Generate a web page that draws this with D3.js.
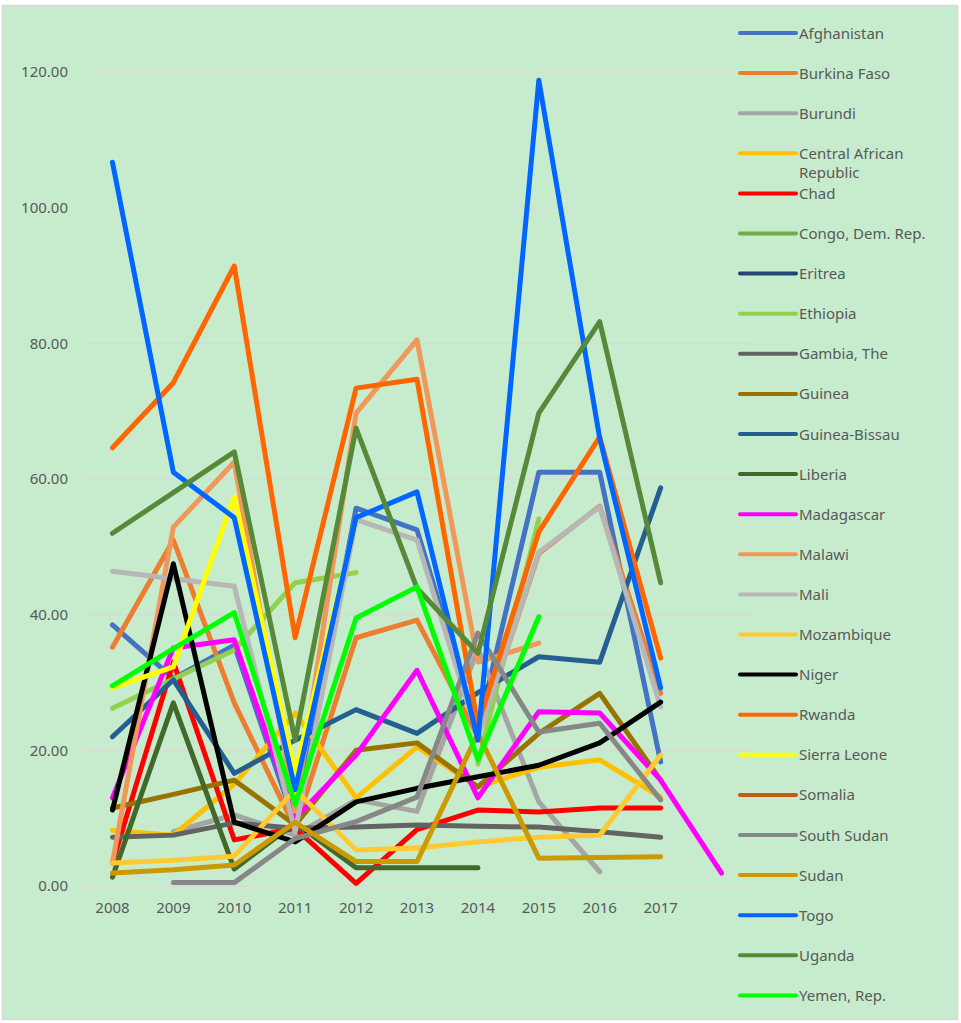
<!DOCTYPE html>
<html>
<head>
<meta charset="utf-8">
<script src="https://cdnjs.cloudflare.com/ajax/libs/d3/7.8.5/d3.min.js"></script>
<style>
  body { margin: 0; background: #fff; }
  text { font-family: "Noto Sans", "DejaVu Sans", sans-serif; }
</style>
</head>
<body>
<div class="chartDiv"></div>
<script>
// year labels (last slot has no label)
let years = ["2008","2009","2010","2011","2012","2013","2014","2015","2016","2017",""];
let yTicks = [0, 20, 40, 60, 80, 100, 120];

let countries = ["Afghanistan","Burkina Faso","Burundi","Central African Republic","Chad",
  "Congo, Dem. Rep.","Eritrea","Ethiopia","Gambia, The","Guinea","Guinea-Bissau","Liberia",
  "Madagascar","Malawi","Mali","Mozambique","Niger","Rwanda","Sierra Leone","Somalia",
  "South Sudan","Sudan","Togo","Uganda","Yemen, Rep."];

let colors = ["#4472c4","#ed7d31","#a5a5a5","#ffc000","#ff0000",
  "#70ad47","#264478","#92d050","#636363","#997300","#255e91","#43682b",
  "#ff00ff","#f1975a","#b7b7b7","#ffc933","#000000","#ff6600","#ffff00","#c55a11",
  "#878787","#cc9900","#0066ff","#578a38","#00ff00"];

let afghanistan  = [38.5, 30.6, 35.5, 9.0, 55.7, 52.5, 23.0, 61.0, 61.0, 18.3, null];
let burkinaFaso  = [35.2, 51.0, 27.0, 8.5, 36.6, 39.2, 22.0, 49.0, 56.0, 28.4, null];
let burundi      = [null, 8.0, 10.5, 7.5, 12.7, 11.0, 35.0, 12.4, 2.1, null, null];
let car          = [8.2, 7.5, 15.0, 25.5, 13.0, 20.5, 14.6, 17.5, 18.6, 13.1, null];
let chad         = [3.4, 33.0, 6.8, 8.5, 0.4, 8.3, 11.2, 10.9, 11.5, 11.5, null];
let congo        = [null, null, null, null, null, null, null, null, null, null, null];
let eritrea      = [null, null, null, null, null, null, null, null, null, null, null];
let ethiopia     = [26.2, 30.5, 34.8, 44.7, 46.2, null, 18.0, 54.1, null, null, null];
let gambia       = [7.2, 7.5, 9.3, 8.5, 8.7, 9.0, 8.8, 8.7, 8.0, 7.2, null];
let guinea       = [11.5, 13.5, 15.6, 9.0, 20.0, 21.1, 14.6, 22.5, 28.4, 15.6, null];
let guineaBissau = [22.0, 30.4, 16.6, 21.5, 26.0, 22.5, 28.5, 33.8, 33.0, 58.7, null];
let liberia      = [1.3, 27.0, 2.5, 9.3, 2.7, 2.7, 2.7, null, null, null, null];
let madagascar   = [13.0, 35.1, 36.3, 10.0, 19.3, 31.8, 13.0, 25.7, 25.5, 15.6, 1.9];
let malawi       = [3.4, 52.9, 62.5, 11.0, 69.7, 80.5, 33.0, 35.8, null, null, null];
let mali         = [46.4, 45.3, 44.2, 8.0, 54.0, 51.0, 22.0, 49.2, 55.9, 26.4, null];
let mozambique   = [3.4, 3.8, 4.4, 14.2, 5.3, 5.6, 6.5, 7.2, 7.5, 19.3, null];
let niger        = [11.2, 47.5, 9.4, 6.5, 12.4, 14.4, 16.1, 17.8, 21.1, 27.1, null];
let rwanda       = [64.6, 74.2, 91.4, 36.6, 73.4, 74.7, 23.7, 52.2, 66.2, 33.6, null];
let sierraLeone  = [29.2, 32.3, 57.4, 16.7, 54.0, null, null, null, null, null, null];
let somalia      = [null, null, null, null, null, null, null, null, null, null, null];
let southSudan   = [null, 0.5, 0.5, 7.0, 9.5, 13.1, 37.3, 22.7, 24.0, 12.7, null];
let sudan        = [1.9, 2.4, 3.1, 9.4, 3.6, 3.6, 22.5, 4.1, 4.2, 4.3, null];
let togo         = [106.7, 61.0, 54.3, 14.2, 54.3, 58.1, 21.5, 118.8, 66.0, 29.2, null];
let uganda       = [52.0, 58.0, 64.0, 21.5, 67.5, 43.9, 34.3, 69.7, 83.2, 44.7, null];
let yemen        = [29.5, 35.0, 40.3, 12.0, 39.5, 44.1, 18.6, 39.7, null, null, null];

let values = [afghanistan, burkinaFaso, burundi, car, chad, congo, eritrea, ethiopia, gambia,
  guinea, guineaBissau, liberia, madagascar, malawi, mali, mozambique, niger, rwanda,
  sierraLeone, somalia, southSudan, sudan, togo, uganda, yemen];

let svgWidth = 961;
let svgHeight = 1023;

let svg = d3.select('.chartDiv')
            .append('svg')
            .attr('width', svgWidth)
            .attr('height', svgHeight);

// chart background + border
svg.append('rect')
   .attr('x', 2.5).attr('y', 5.5)
   .attr('width', 955).attr('height', 1014)
   .attr('fill', '#c6eccd')
   .attr('stroke', '#d9d9d9')
   .attr('stroke-width', 1.5);

let plot = { left: 82, right: 752, top: 72, bottom: 886 };

let xScale = d3.scaleBand()
               .domain(d3.range(years.length))
               .range([plot.left, plot.right])
               .padding(0);

let yScale = d3.scaleLinear()
               .domain([0, 120])
               .range([plot.bottom, plot.top]);

let xc = i => xScale(i) + xScale.bandwidth() / 2;

// gridlines
svg.append('g')
   .selectAll('line')
   .data(yTicks)
   .enter()
   .append('line')
   .attr('x1', plot.left).attr('x2', plot.right)
   .attr('y1', d => yScale(d)).attr('y2', d => yScale(d))
   .attr('stroke', '#d9d9d9')
   .attr('stroke-width', 1.5);

// y axis
let leftAxis = d3.axisLeft(yScale).tickValues(yTicks).tickFormat(d3.format('.2f')).tickSize(0).tickPadding(14);
let yAxisG = svg.append('g')
                .attr('transform', `translate(${plot.left}, 0)`)
                .call(leftAxis);
yAxisG.select('.domain').remove();
yAxisG.selectAll('text').attr('font-size', 15).attr('fill', '#595959')
      .attr('font-family', '"Noto Sans", sans-serif');

// x axis
let bottomAxis = d3.axisBottom(xScale).tickFormat(i => years[i]).tickSize(0).tickPadding(16);
let xAxisG = svg.append('g')
                .attr('transform', `translate(0, ${plot.bottom})`)
                .call(bottomAxis);
xAxisG.select('.domain').remove();
xAxisG.selectAll('text').attr('font-size', 15).attr('fill', '#595959')
      .attr('font-family', '"Noto Sans", sans-serif');

// lines
let line = d3.line()
             .defined(d => d.v !== null)
             .x(d => xc(d.i))
             .y(d => yScale(d.v));

svg.append('g')
   .selectAll('path')
   .data(values.map((vals, k) => ({ k: k, pts: vals.map((v, i) => ({ i: i, v: v })) })))
   .enter()
   .append('path')
   .attr('d', d => line(d.pts))
   .attr('fill', 'none')
   .attr('stroke', d => colors[d.k])
   .attr('stroke-width', 5)
   .attr('stroke-linejoin', 'round')
   .attr('stroke-linecap', 'round');

// legend
svg.append('rect')
   .attr('x', 752).attr('y', 12)
   .attr('width', 200).attr('height', 1000)
   .attr('fill', '#c6eccd');

let legend = svg.append('g');
let item = legend.selectAll('g')
                 .data(countries)
                 .enter()
                 .append('g')
                 .attr('transform', (d, i) => `translate(740, ${33 + i * 40.1})`);

item.append('line')
    .attr('x1', 0).attr('x2', 56)
    .attr('y1', 0).attr('y2', 0)
    .attr('stroke', (d, i) => colors[i])
    .attr('stroke-width', 4)
    .attr('stroke-linecap', 'round');

item.each(function(d) {
  let t = d3.select(this).append('text')
            .attr('x', 59)
            .attr('y', 5.5)
            .attr('font-size', 15)
            .attr('fill', '#595959');
  if (d === "Central African Republic") {
    t.append('tspan').attr('x', 59).attr('dy', 0).text("Central African");
    t.append('tspan').attr('x', 59).attr('dy', 19).text("Republic");
  } else {
    t.text(d);
  }
});
</script>
</body>
</html>
